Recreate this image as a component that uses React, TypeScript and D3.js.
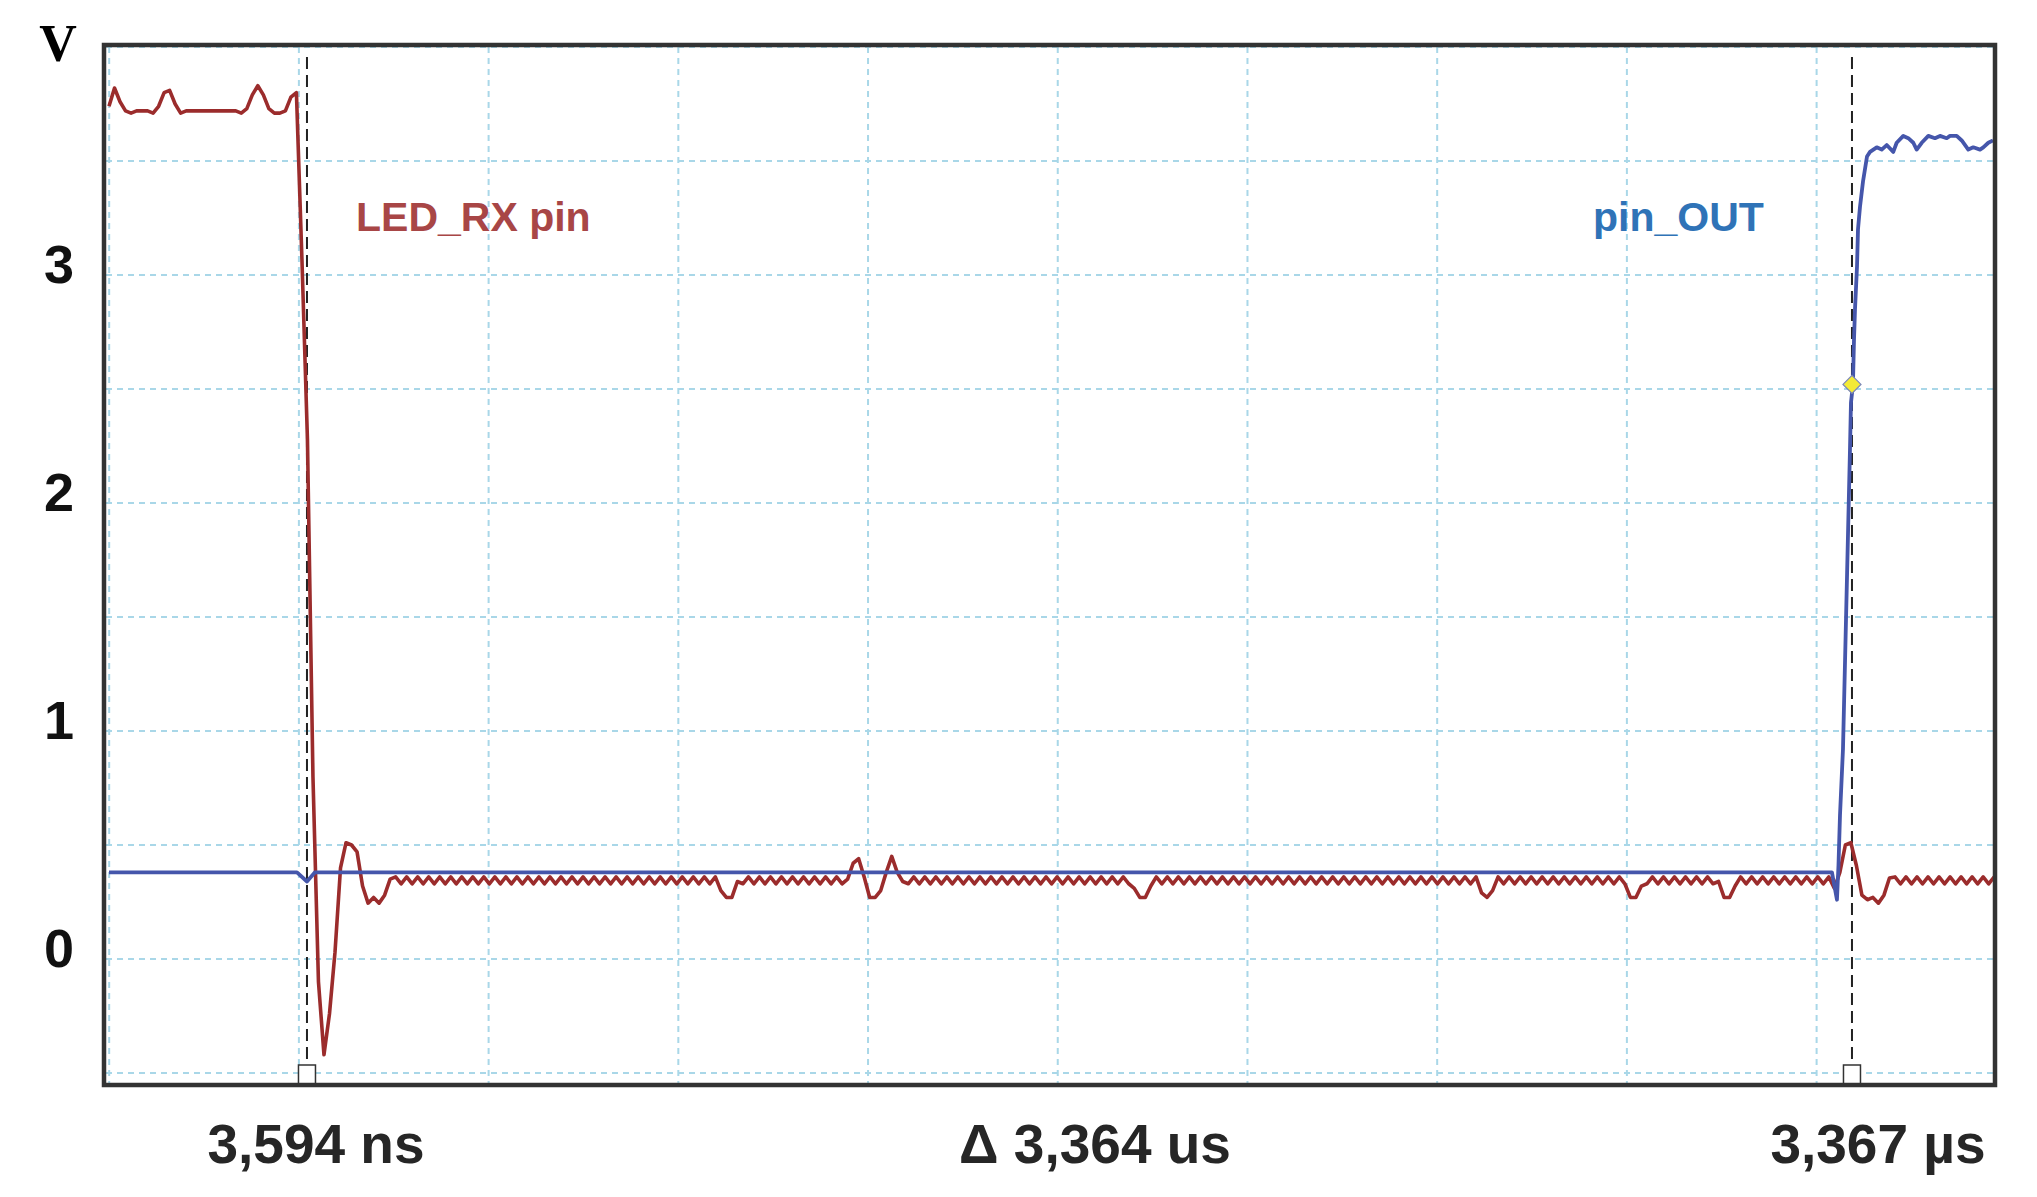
import * as d3 from "d3";
import React, { useEffect, useRef } from "react";

// scope capture: LED_RX pin falling vs pin_OUT rising
const voltTicks = [0, 1, 2, 3];
const voltGrid = [-0.5, 0, 0.5, 1, 1.5, 2, 2.5, 3, 3.5, 4];
const timeGridNs = [-427, -14, 399, 812, 1225, 1638, 2051, 2464, 2877, 3290];
const cursorNs = [3.594, 3367];
const cursorLabels = ["3,594 ns", "Δ 3,364 us", "3,367 µs"];
const markerPoint = [3367, 2.52];
const seriesNames = ["LED_RX pin", "pin_OUT"];

// LED_RX pin, one sample every 12 ns starting at -427.4 ns (V)
const RX_T0 = -427.4;
const RX_DT = 12;
const ledRx = [
  3.74, 3.82, 3.76, 3.72, 3.71, 3.72, 3.72, 3.72, 3.71, 3.74,
  3.80, 3.81, 3.75, 3.71, 3.72, 3.72, 3.72, 3.72, 3.72, 3.72,
  3.72, 3.72, 3.72, 3.72, 3.71, 3.73, 3.79, 3.83, 3.79, 3.73,
  3.71, 3.71, 3.72, 3.78, 3.80, 3.07, 2.28, 0.80, -0.10, -0.42,
  -0.24, 0.03, 0.40, 0.51, 0.50, 0.47, 0.32, 0.245, 0.27, 0.245,
  0.28, 0.35, 0.36, 0.33, 0.36, 0.33, 0.36, 0.33, 0.36, 0.33,
  0.36, 0.33, 0.36, 0.33, 0.36, 0.33, 0.36, 0.33, 0.36, 0.33,
  0.36, 0.33, 0.36, 0.33, 0.36, 0.33, 0.36, 0.33, 0.36, 0.33,
  0.36, 0.33, 0.36, 0.33, 0.36, 0.33, 0.36, 0.33, 0.36, 0.33,
  0.36, 0.33, 0.36, 0.33, 0.36, 0.33, 0.36, 0.33, 0.36, 0.33,
  0.36, 0.33, 0.36, 0.33, 0.36, 0.33, 0.36, 0.33, 0.36, 0.33,
  0.36, 0.30, 0.27, 0.27, 0.34, 0.33, 0.36, 0.33, 0.36, 0.33,
  0.36, 0.33, 0.36, 0.33, 0.36, 0.33, 0.36, 0.33, 0.36, 0.33,
  0.36, 0.33, 0.36, 0.33, 0.35, 0.42, 0.44, 0.36, 0.27, 0.27,
  0.30, 0.38, 0.45, 0.38, 0.34, 0.33, 0.36, 0.33, 0.36, 0.33,
  0.36, 0.33, 0.36, 0.33, 0.36, 0.33, 0.36, 0.33, 0.36, 0.33,
  0.36, 0.33, 0.36, 0.33, 0.36, 0.33, 0.36, 0.33, 0.36, 0.33,
  0.36, 0.33, 0.36, 0.33, 0.36, 0.33, 0.36, 0.33, 0.36, 0.33,
  0.36, 0.33, 0.36, 0.33, 0.36, 0.33, 0.31, 0.27, 0.27, 0.32,
  0.36, 0.33, 0.36, 0.33, 0.36, 0.33, 0.36, 0.33, 0.36, 0.33,
  0.36, 0.33, 0.36, 0.33, 0.36, 0.33, 0.36, 0.33, 0.36, 0.33,
  0.36, 0.33, 0.36, 0.33, 0.36, 0.33, 0.36, 0.33, 0.36, 0.33,
  0.36, 0.33, 0.36, 0.33, 0.36, 0.33, 0.36, 0.33, 0.36, 0.33,
  0.36, 0.33, 0.36, 0.33, 0.36, 0.33, 0.36, 0.33, 0.36, 0.33,
  0.36, 0.33, 0.36, 0.33, 0.36, 0.33, 0.36, 0.33, 0.36, 0.29,
  0.27, 0.30, 0.36, 0.33, 0.36, 0.33, 0.36, 0.33, 0.36, 0.33,
  0.36, 0.33, 0.36, 0.33, 0.36, 0.33, 0.36, 0.33, 0.36, 0.33,
  0.36, 0.33, 0.36, 0.33, 0.36, 0.33, 0.27, 0.27, 0.32, 0.33,
  0.36, 0.33, 0.36, 0.33, 0.36, 0.33, 0.36, 0.33, 0.36, 0.33,
  0.36, 0.33, 0.34, 0.27, 0.27, 0.32, 0.36, 0.33, 0.36, 0.33,
  0.36, 0.33, 0.36, 0.33, 0.36, 0.33, 0.36, 0.33, 0.36, 0.33,
  0.36, 0.33, 0.36, 0.31, 0.38, 0.50, 0.51, 0.41, 0.28, 0.26,
  0.27, 0.245, 0.28, 0.355, 0.36, 0.33, 0.36, 0.33, 0.36, 0.33,
  0.36, 0.33, 0.36, 0.33, 0.36, 0.33, 0.36, 0.33, 0.36, 0.33,
  0.36, 0.33, 0.36,
];

// pin_OUT breakpoints [ns, V]
const pinOut = [
  [-427.4, 0.38], [-18.2, 0.38], [3.6, 0.34], [21.0, 0.38], [3323.4, 0.38],
  [3334.3, 0.26], [3337.6, 0.41], [3340.9, 0.63], [3347.4, 0.92], [3362.6, 2.23],
  [3364.8, 2.44], [3369.1, 2.52], [3371.3, 2.71], [3373.6, 2.85], [3378.0, 3.04],
  [3380.1, 3.2], [3384.5, 3.3], [3391.0, 3.41], [3399.7, 3.52], [3406.3, 3.54],
  [3420.8, 3.56], [3431.7, 3.55], [3442.6, 3.57], [3456.9, 3.54], [3464.3, 3.58],
  [3478.7, 3.61], [3489.6, 3.6], [3500.5, 3.58], [3507.9, 3.55], [3518.8, 3.58],
  [3533.2, 3.61], [3547.7, 3.6], [3558.6, 3.61], [3573.2, 3.6], [3580.4, 3.61],
  [3595.0, 3.61], [3605.9, 3.59], [3620.2, 3.55], [3631.1, 3.56], [3645.7, 3.55],
  [3652.9, 3.56], [3663.8, 3.58], [3674.0, 3.59],
];

const W = 2037;
const H = 1197;
const SANS = "'Liberation Sans', Arial, sans-serif";

const App = () => {
  const ref = useRef<SVGSVGElement>(null);

  useEffect(() => {
    const svg = d3.select(ref.current);
    svg.selectAll("*").remove();

    // plot box
    const box = { left: 106, right: 1993, top: 47, bottom: 1083 };

    // Scales
    const xScale = d3.scaleLinear().domain([-427.4, 3674]).range([109, 1993]);
    const yScale = d3.scaleLinear().domain([-0.5, 4]).range([1073, 47]);

    svg.append("rect").attr("width", W).attr("height", H).attr("fill", "#fff");

    svg.append("clipPath").attr("id", "plot-clip")
      .append("rect")
      .attr("x", box.left).attr("y", box.top)
      .attr("width", box.right - box.left).attr("height", box.bottom - box.top);

    // grid
    const grid = svg.append("g").attr("stroke", "#a9d7e8").attr("stroke-width", 2).attr("stroke-dasharray", "6,5");
    grid.selectAll(".h").data(voltGrid).join("line")
      .attr("x1", box.left).attr("x2", box.right)
      .attr("y1", (d) => yScale(d)).attr("y2", (d) => yScale(d));
    grid.selectAll(".v").data(timeGridNs).join("line")
      .attr("y1", box.top).attr("y2", box.bottom)
      .attr("x1", (d) => xScale(d)).attr("x2", (d) => xScale(d));

    // cursors
    svg.append("g").selectAll("line").data(cursorNs).join("line")
      .attr("x1", (d) => xScale(d)).attr("x2", (d) => xScale(d))
      .attr("y1", 57).attr("y2", 1065)
      .attr("stroke", "#222").attr("stroke-width", 2).attr("stroke-dasharray", "12,6");

    const traces = svg.append("g").attr("clip-path", "url(#plot-clip)");

    // LED_RX trace
    const rxLine = d3.line<number>()
      .x((d, i) => xScale(RX_T0 + i * RX_DT))
      .y((d) => yScale(d));
    traces.append("path")
      .datum(ledRx)
      .attr("d", rxLine)
      .attr("fill", "none")
      .attr("stroke", "#9b2c2c")
      .attr("stroke-width", 3.6)
      .attr("stroke-linejoin", "round");

    // pin_OUT trace
    const outLine = d3.line<number[]>()
      .x((d) => xScale(d[0]))
      .y((d) => yScale(d[1]));
    traces.append("path")
      .datum(pinOut)
      .attr("d", outLine)
      .attr("fill", "none")
      .attr("stroke", "#4556ab")
      .attr("stroke-width", 3.8)
      .attr("stroke-linejoin", "round");

    // cursor feet
    svg.append("g").selectAll("path").data(cursorNs).join("path")
      .attr("d", (d) => {
        const cx = xScale(d);
        return `M${cx - 8.5},1083 V1065 H${cx + 8.5} V1083`;
      })
      .attr("fill", "#fff").attr("stroke", "#333").attr("stroke-width", 1.5);

    // measurement marker
    const mx = xScale(markerPoint[0]);
    const my = yScale(markerPoint[1]);
    svg.append("path")
      .attr("d", `M${mx},${my - 9} L${mx + 9},${my} L${mx},${my + 9} L${mx - 9},${my} Z`)
      .attr("fill", "#f3ea35").attr("stroke", "#7a86b8").attr("stroke-width", 1.2);

    // frame
    svg.append("rect")
      .attr("x", 104).attr("y", 45).attr("width", 1891).attr("height", 1040)
      .attr("fill", "none").attr("stroke", "#333").attr("stroke-width", 4.5);

    // y labels
    svg.append("text")
      .attr("x", 58).attr("y", 61).attr("text-anchor", "middle")
      .style("font-family", "'Liberation Serif', 'Times New Roman', serif")
      .style("font-weight", "bold").style("font-size", "52px")
      .text("V");
    svg.append("g").selectAll("text").data(voltTicks).join("text")
      .attr("x", 59).attr("y", (d) => yScale(d) + 8)
      .attr("text-anchor", "middle")
      .style("font-family", SANS).style("font-weight", "bold").style("font-size", "54px")
      .attr("fill", "#111")
      .text((d) => String(d));

    // cursor readouts
    const readoutX = [316, 1095, 1878];
    svg.append("g").selectAll("text").data(cursorLabels).join("text")
      .attr("x", (d, i) => readoutX[i]).attr("y", 1163)
      .attr("text-anchor", "middle")
      .style("font-family", SANS).style("font-weight", "bold").style("font-size", "55px")
      .attr("fill", "#262626")
      .text((d) => d);

    // trace names
    svg.append("text")
      .attr("x", 356).attr("y", 231)
      .style("font-family", SANS).style("font-weight", "bold").style("font-size", "41px")
      .attr("fill", "#a84646")
      .text(seriesNames[0]);
    svg.append("text")
      .attr("x", 1593).attr("y", 231)
      .style("font-family", SANS).style("font-weight", "bold").style("font-size", "41px")
      .attr("fill", "#2f73b7")
      .text(seriesNames[1]);
  }, []);

  return (
    <div style={{ position: "fixed", left: 0, top: 0, background: "#fff" }}>
      <svg ref={ref} width={W} height={H} style={{ display: "block" }} />
    </div>
  );
};

export default App;
